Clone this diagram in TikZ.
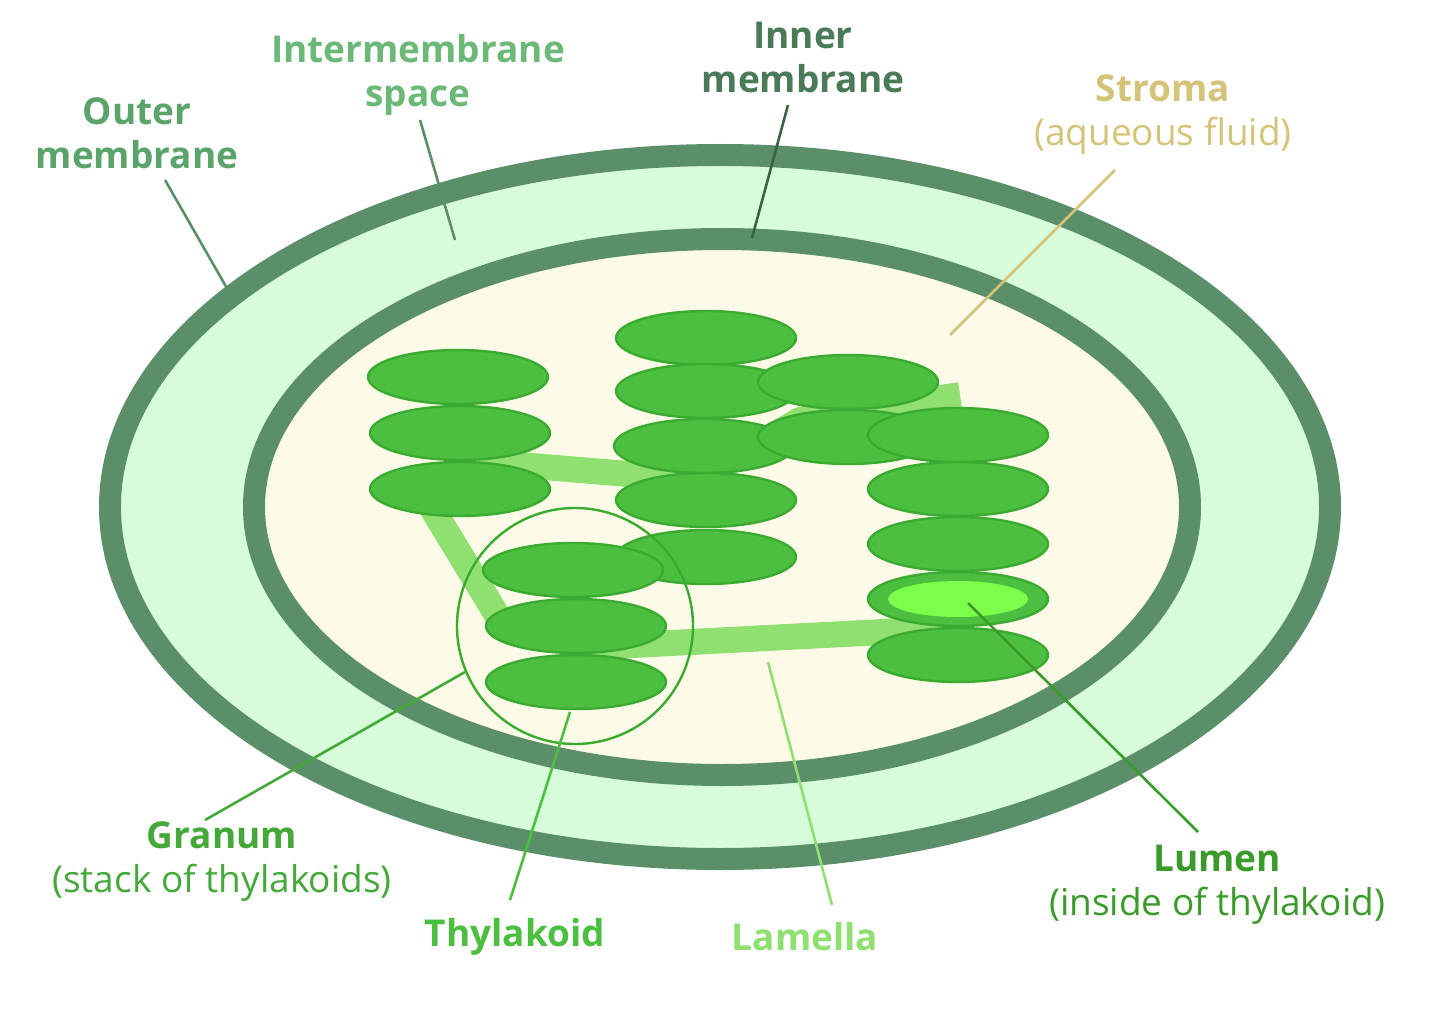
\documentclass[tikz,border=0pt]{standalone}
\usepackage{fontspec}
\setmainfont{Open Sans}
\definecolor{memb}{HTML}{5A8F69}
\definecolor{inter}{HTML}{D6FCD9}
\definecolor{stroma}{HTML}{FDFBE8}
\definecolor{thy}{HTML}{4DBF40}
\definecolor{thyb}{HTML}{3AAA30}
\definecolor{lam}{HTML}{8FE070}
\definecolor{lumen}{HTML}{7CFF4A}
\definecolor{cOuter}{HTML}{5AA36A}
\definecolor{cInter}{HTML}{6BB878}
\definecolor{cInner}{HTML}{4A7A58}
\definecolor{cStroma}{HTML}{D4C47A}
\definecolor{cGran}{HTML}{45A83A}
\definecolor{cLumen}{HTML}{3A9A2A}
\begin{document}
\begin{tikzpicture}[x=0.5pt,y=-0.5pt,
  thyl/.style={draw=thyb,line width=1.2pt,fill=thy},
  lbl/.style={font=\fontsize{18.5}{22}\selectfont\bfseries,align=center},
  two/.style={font=\fontsize{18.5}{22}\selectfont,align=center},
  leader/.style={line width=1.3pt}]
\useasboundingbox (0,0) rectangle (1440,1016);
\fill[white] (0,0) rectangle (1440,1016);
\draw[memb,line width=11pt,fill=inter] (720,507) ellipse [x radius=610,y radius=352];
\draw[memb,line width=11pt,fill=stroma] (722,507) ellipse [x radius=468,y radius=268];
% lamellae
\draw[lam,line width=13pt,line join=round] (460,460) -- (700,480) -- (800,420) -- (960,395);
\draw[lam,line width=13pt,line join=round] (430,505) -- (500,620);
\draw[lam,line width=13pt] (575,648) -- (960,628);
% stacks
\foreach \x/\y in {458/377,460/433,460/489,
  706/338,706/391,848/382,704/446,848/437,706/500,706/557,
  958/435,958/489,958/544,958/599,958/655,
  573/570,576/626,576/682}
  \draw[thyl] (\x,\y) ellipse [x radius=90,y radius=27];
\fill[lumen] (958,599) ellipse [x radius=70,y radius=18];
\node[draw=thyb,line width=1.2pt,circle,minimum size=118pt] (gran) at (575,626) {};
% labels
\node[lbl,text=cOuter] (outer) at (137,133) {Outer\\membrane};
\node[lbl,text=cInter] (inter) at (418,75) {Intermembrane\\space};
\node[lbl,text=cInner] (inner) at (803,57) {Inner\\membrane};
\node[two,text=cStroma] (str) at (1163,115) {\textbf{Stroma}\\(aqueous fluid)};
\node[two,text=cGran] (granl) at (222,862) {\textbf{Granum}\\(stack of thylakoids)};
\node[lbl,text=thy] (thyl) at (515,937) {Thylakoid};
\node[lbl,text=lam] (lame) at (805,937) {Lamella};
\node[two,text=cLumen] (lum) at (1217,885) {\textbf{Lumen}\\(inside of thylakoid)};
% leaders
\coordinate (p1) at (228,290); \coordinate (p2) at (455,240);
\coordinate (p3) at (752,238); \coordinate (p4) at (950,335);
\coordinate (p5) at (465,672); \coordinate (p6) at (570,712);
\coordinate (p7) at (768,662); \coordinate (p8) at (968,603);
\draw[leader,memb] (165,180) -- (p1);
\draw[leader,memb] (420,120) -- (p2);
\draw[leader,cInner!80!black] (788,105) -- (p3);
\draw[leader,cStroma] (1115,170) -- (p4);
\draw[leader,cGran] (205,820) -- (p5);
\draw[leader,thy] (510,900) -- (p6);
\draw[leader,lam] (832,905) -- (p7);
\draw[leader,cLumen] (1198,832) -- (p8);
\end{tikzpicture}
\end{document}
